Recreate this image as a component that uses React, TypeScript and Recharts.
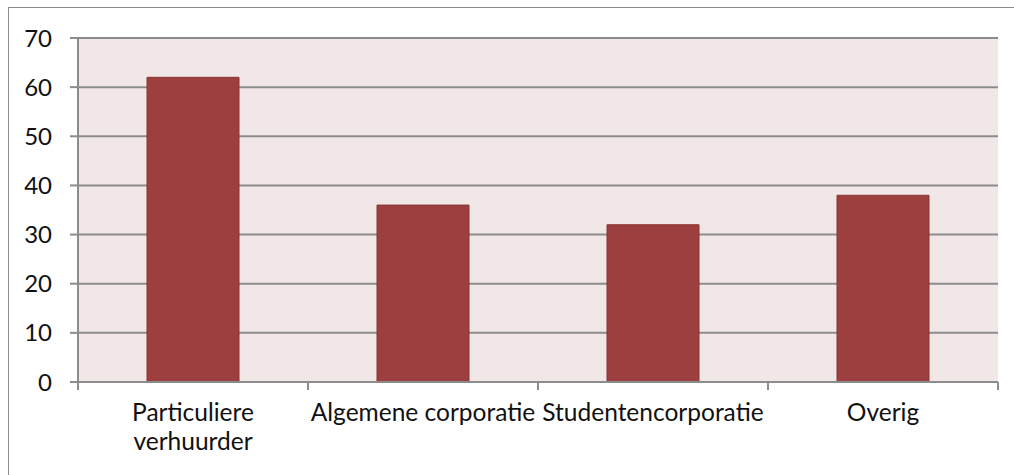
import React from 'react'
import { BarChart, Bar, XAxis, YAxis, CartesianGrid } from 'recharts'

const categories = ['Particuliere\nverhuurder', 'Algemene corporatie', 'Studentencorporatie', 'Overig']
const values = [62, 36, 32, 38]
const yTicks = [0, 10, 20, 30, 40, 50, 60, 70]

const data = categories.map((name, i) => ({ name, value: values[i] }))

const W = 1014
const H = 475
const margin = { top: 38, right: 16, bottom: 0, left: 0 }
const yAxisWidth = 78
const band = (W - margin.left - margin.right - yAxisWidth) / categories.length
const font = 'Lato, "Open Sans", sans-serif'
const grey = '#8c8c8c'

function CategoryTick(props: any) {
  const { x, y, payload, index } = props
  const lines = String(payload.value).split('\n')
  const last = index === categories.length - 1
  return (
    <g>
      <line x1={x - band / 2} x2={x - band / 2} y1={y} y2={y + 8} stroke={grey} strokeWidth={2} />
      {last && <line x1={x + band / 2} x2={x + band / 2} y1={y} y2={y + 8} stroke={grey} strokeWidth={2} />}
      <text x={x} y={y + 39} textAnchor="middle" fill="#111" fontSize={24.5} fontFamily={font}>
        {lines.map((l, i) => (
          <tspan key={i} x={x} dy={i === 0 ? 0 : 29}>{l}</tspan>
        ))}
      </text>
    </g>
  )
}

export default function App() {
  return (
    <div style={{ position: 'absolute', left: 0, top: 0, width: W, height: H, overflow: 'hidden', background: '#fff' }}>
      <div style={{ position: 'absolute', left: 8, top: 7, width: W + 50, height: H + 50, border: `1.5px solid ${grey}` }} />
      <div style={{ position: 'absolute', left: 0, top: 0 }}>
        <BarChart width={W} height={H} data={data} margin={margin} barCategoryGap="30%">
          <CartesianGrid vertical={false} fill="#f2e7e7" stroke={grey} strokeWidth={2} fillOpacity={1} />
          <XAxis
            dataKey="name"
            interval={0}
            height={93}
            tickSize={0}
            tickMargin={0}
            axisLine={{ stroke: grey, strokeWidth: 2 }}
            tickLine={false}
            tick={<CategoryTick />}
          />
          <YAxis
            width={yAxisWidth}
            domain={[0, 70]}
            ticks={yTicks}
            interval={0}
            tickSize={8}
            tickMargin={18}
            axisLine={{ stroke: grey, strokeWidth: 2 }}
            tickLine={{ stroke: grey, strokeWidth: 2 }}
            tick={{ fill: '#111', fontSize: 24, fontFamily: font }}
          />
          <Bar dataKey="value" fill="#9c3f3e" stroke="#8a3434" strokeWidth={1} isAnimationActive={false} />
        </BarChart>
      </div>
    </div>
  )
}
